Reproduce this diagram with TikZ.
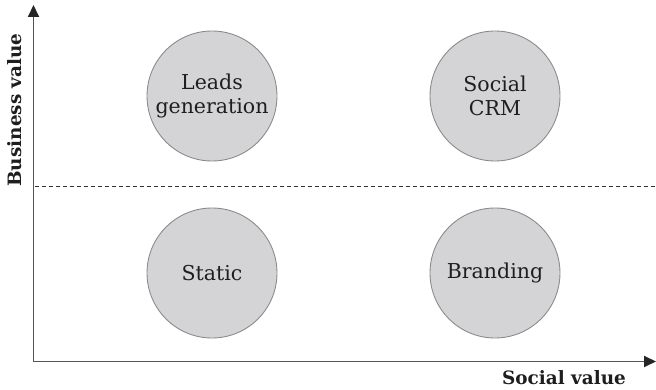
\documentclass[tikz,border=0pt]{standalone}
\usepackage{fontspec}
\setmainfont{DejaVu Serif}
\usetikzlibrary{arrows.meta}
\definecolor{circfill}{RGB}{212,212,214}
\definecolor{circline}{RGB}{140,140,140}
\definecolor{axisgray}{RGB}{85,85,85}
\definecolor{txt}{RGB}{30,30,30}
\tikzset{
  quad/.style={circle, draw=circline, line width=0.9pt, fill=circfill, minimum size=130pt, inner sep=0pt, align=center, text=txt, font=\fontsize{20.5}{24}\selectfont},
  axis/.style={draw=axisgray, line width=1.8pt, -{Triangle[length=12pt,width=11pt,fill=black!85,color=black!85]}},
  axlabel/.style={text=txt, font=\bfseries\fontsize{18.4}{20}\selectfont, inner sep=0pt},
}
\begin{document}
\begin{tikzpicture}[x=1pt,y=-1pt]
\useasboundingbox (0,0) rectangle (656,390);
\coordinate (O) at (33.5,361.5);
\coordinate (Ytop) at (33.5,5);
\coordinate (Xend) at (656,361.5);
\coordinate (Dl) at (34.5,187);
\coordinate (Dr) at (656,187);
\draw[black!80, line width=1pt, dash pattern=on 4pt off 3pt] (Dl) -- (Dr);
\draw[axis] (O) -- (Ytop);
\draw[axis] (O) -- (Xend);
\node[quad] (lead) at (212,96) {Leads\\generation};
\node[quad] (crm) at (495,96) {Social\\CRM};
\node[quad] (stat) at (212,273) {Static};
\node[quad] (brand) at (495,273) {Branding};
\node[axlabel, rotate=90] (yl) at (15,110) {Business value};
\node[axlabel] (xl) at (564,378) {Social value};
\end{tikzpicture}
\end{document}
